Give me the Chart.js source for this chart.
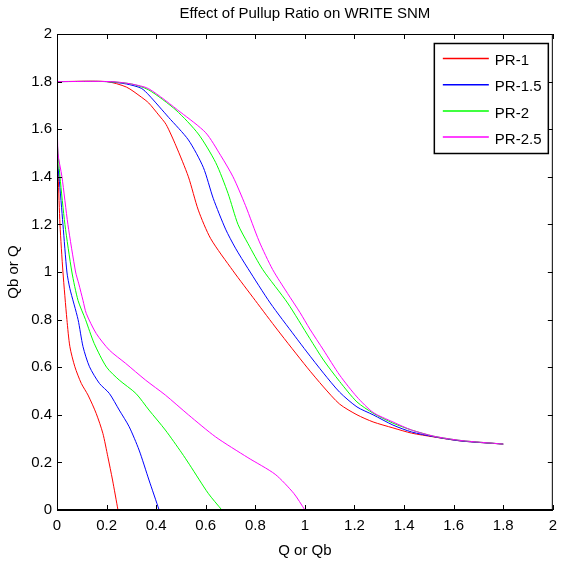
<!DOCTYPE html>
<html>
<head>
<meta charset="utf-8">
<title>Effect of Pullup Ratio on WRITE SNM</title>
<script src="https://cdn.jsdelivr.net/npm/chart.js@4/dist/chart.umd.min.js"></script>
<style>
  html, body { margin: 0; padding: 0; background: #fff; }
  canvas { display: block; }
</style>
</head>
<body>
<canvas id="snmChart" width="564" height="563"></canvas>
<script>
// tick values for both axes
const xTicks = [0, 0.2, 0.4, 0.6, 0.8, 1, 1.2, 1.4, 1.6, 1.8, 2];
const yTicks = [0, 0.2, 0.4, 0.6, 0.8, 1, 1.2, 1.4, 1.6, 1.8, 2];

const seriesNames = ['PR-1', 'PR-1.5', 'PR-2', 'PR-2.5'];
const seriesColors = ['#ff0000', '#0000ff', '#00ff00', '#ff00ff'];

// upper branch of each butterfly curve, [x, y]
const pr1Upper = [[0, 1.8], [0.2, 1.8], [0.28, 1.777], [0.34, 1.735], [0.37, 1.71], [0.41, 1.66], [0.44, 1.62],
  [0.48, 1.53], [0.53, 1.4], [0.57, 1.26], [0.62, 1.14], [0.71, 1.005], [0.8, 0.88], [0.89, 0.756],
  [1.008, 0.6], [1.075, 0.517], [1.14, 0.445], [1.21, 0.4], [1.275, 0.37], [1.355, 0.345], [1.43, 0.323],
  [1.52, 0.307], [1.63, 0.29], [1.8, 0.277]];
const pr15Upper = [[0, 1.8], [0.2, 1.8], [0.28, 1.79], [0.34, 1.772], [0.37, 1.744], [0.45, 1.65], [0.53, 1.555],
  [0.59, 1.44], [0.63, 1.31], [0.68, 1.18], [0.72, 1.1], [0.77, 1.015], [0.86, 0.87], [0.96, 0.73],
  [1.008, 0.664], [1.075, 0.575], [1.14, 0.495], [1.21, 0.433], [1.275, 0.4], [1.355, 0.357], [1.43, 0.328],
  [1.52, 0.308], [1.63, 0.29], [1.8, 0.277]];
const pr2Upper = [[0, 1.8], [0.2, 1.8], [0.3, 1.79], [0.37, 1.765], [0.48, 1.68], [0.57, 1.58], [0.64, 1.46],
  [0.69, 1.33], [0.73, 1.2], [0.77, 1.12], [0.83, 1.01], [0.93, 0.87], [1.02, 0.72], [1.075, 0.63],
  [1.14, 0.54], [1.21, 0.454], [1.275, 0.407], [1.355, 0.365], [1.43, 0.336], [1.52, 0.31], [1.63, 0.292],
  [1.8, 0.277]];
const pr25Upper = [[0, 1.8], [0.22, 1.8], [0.3, 1.79], [0.37, 1.77], [0.5, 1.67], [0.6, 1.585], [0.66, 1.49],
  [0.71, 1.4], [0.76, 1.28], [0.815, 1.13], [0.87, 1.01], [0.93, 0.91], [0.98, 0.83], [1.02, 0.76],
  [1.075, 0.672], [1.14, 0.567], [1.21, 0.475], [1.275, 0.41], [1.355, 0.37], [1.43, 0.336], [1.52, 0.31],
  [1.63, 0.292], [1.8, 0.277]];

// lower (mirrored) branch
const pr1Lower = [[0, 1.52], [0.005, 1.4], [0.012, 1.2], [0.024, 1.0], [0.04, 0.8], [0.052, 0.686],
  [0.072, 0.602], [0.098, 0.532], [0.125, 0.483], [0.158, 0.406], [0.185, 0.322], [0.205, 0.224],
  [0.224, 0.126], [0.246, 0]];
const pr15Lower = [[0, 1.47], [0.008, 1.4], [0.024, 1.2], [0.04, 1.0], [0.052, 0.93], [0.085, 0.8],
  [0.105, 0.686], [0.131, 0.602], [0.171, 0.532], [0.211, 0.49], [0.251, 0.42], [0.291, 0.35],
  [0.331, 0.252], [0.371, 0.126], [0.412, 0]];
const pr2Lower = [[0, 1.555], [0.012, 1.4], [0.032, 1.2], [0.06, 1.0], [0.085, 0.88], [0.115, 0.8],
  [0.15, 0.7], [0.2, 0.6], [0.251, 0.546], [0.318, 0.49], [0.371, 0.42], [0.437, 0.336], [0.503, 0.24],
  [0.535, 0.19], [0.61, 0.07], [0.665, 0]];
const pr25Lower = [[0, 1.8], [0.004, 1.5], [0.02, 1.4], [0.044, 1.2], [0.075, 1.0], [0.088, 0.95],
  [0.105, 0.88], [0.118, 0.826], [0.158, 0.742], [0.211, 0.672], [0.277, 0.616], [0.357, 0.546],
  [0.437, 0.483], [0.53, 0.4], [0.64, 0.307], [0.77, 0.22], [0.88, 0.15], [0.955, 0.07], [1.0, 0]];

const upperSets = [pr1Upper, pr15Upper, pr2Upper, pr25Upper];
const lowerSets = [pr1Lower, pr15Lower, pr2Lower, pr25Lower];

const fontFamily = '"Liberation Sans", Arial, sans-serif';
const baseFont = { family: fontFamily, size: 15 };

const datasets = [];
seriesNames.forEach((name, i) => {
  [upperSets[i], lowerSets[i]].forEach((pts, k) => {
    datasets.push({
      label: k === 0 ? name : '',
      data: pts.map(p => ({ x: p[0], y: p[1] })),
      borderColor: seriesColors[i],
      backgroundColor: seriesColors[i],
      borderWidth: 1,
      showLine: true,
      pointRadius: 0,
      tension: 0.25,
      order: 4 - i   // later series drawn on top
    });
  });
});

// box, inward ticks (matlab style) and legend inside the axes
const matlabFrame = {
  id: 'matlabFrame',
  afterDraw(chart) {
    const { ctx, chartArea: a, scales: { x, y } } = chart;
    ctx.save();
    ctx.strokeStyle = '#000';
    ctx.lineWidth = 1;
    ctx.beginPath();
    ctx.moveTo(a.left + 0.5, a.bottom);
    ctx.lineTo(a.left + 0.5, a.top + 0.5);
    ctx.lineTo(a.right - 0.5, a.top + 0.5);
    ctx.lineTo(a.right - 0.5, a.bottom);
    ctx.stroke();
    ctx.lineWidth = 2;
    ctx.beginPath();
    ctx.moveTo(a.left, a.bottom);
    ctx.lineTo(a.right, a.bottom);
    ctx.stroke();

    ctx.lineWidth = 1;
    ctx.beginPath();
    xTicks.forEach(v => {
      const px = Math.round(x.getPixelForValue(v)) + 0.5;
      ctx.moveTo(px, a.bottom); ctx.lineTo(px, a.bottom - 5);
      ctx.moveTo(px, a.top); ctx.lineTo(px, a.top + 5);
    });
    yTicks.forEach(v => {
      const py = Math.round(y.getPixelForValue(v)) + 0.5;
      ctx.moveTo(a.left, py); ctx.lineTo(a.left + 5, py);
      ctx.moveTo(a.right, py); ctx.lineTo(a.right - 5, py);
    });
    ctx.stroke();

    // legend
    const items = chart.data.datasets.filter(d => d.label);
    const boxW = 114, boxH = 110;
    const bx = a.right - 5 - boxW, by = a.top + 9;
    ctx.fillStyle = '#fff';
    ctx.fillRect(bx, by, boxW, boxH);
    ctx.strokeStyle = '#000';
    ctx.lineWidth = 1.5;
    ctx.strokeRect(bx + 0.5, by + 0.5, boxW, boxH);
    ctx.font = '15px ' + fontFamily;
    ctx.textBaseline = 'middle';
    ctx.textAlign = 'left';
    items.forEach((d, i) => {
      const ly = by + 15.5 + i * 26.2;
      ctx.strokeStyle = d.borderColor;
      ctx.lineWidth = 1.5;
      ctx.beginPath();
      ctx.moveTo(bx + 9, ly);
      ctx.lineTo(bx + 55, ly);
      ctx.stroke();
      ctx.fillStyle = '#000';
      ctx.fillText(d.label, bx + 61, ly + 2.5);
    });
    ctx.restore();
  }
};

const ctx = document.getElementById('snmChart').getContext('2d');
const chart = new Chart(ctx, {
  type: 'scatter',
  data: { datasets: datasets },
  options: {
    responsive: false,
    animation: false,
    layout: { padding: { left: 0, right: 6, top: 0, bottom: 0 } },
    plugins: {
      legend: { display: false },
      tooltip: { enabled: false },
      title: {
        display: true,
        text: 'Effect of Pullup Ratio on WRITE SNM',
        fullSize: false,
        color: '#000',
        font: { family: fontFamily, size: 15, weight: 'normal' },
        padding: { top: 5, bottom: 11 }
      }
    },
    scales: {
      x: {
        type: 'linear',
        min: 0,
        max: 2,
        grid: { display: false, drawTicks: false },
        border: { display: false },
        afterBuildTicks: s => { s.ticks = xTicks.map(v => ({ value: v })); },
        afterFit: s => { s.height = 53; },
        ticks: {
          color: '#000', font: baseFont, padding: 7, maxRotation: 0, autoSkip: false,
          callback: v => String(v)
        },
        title: {
          display: true, text: 'Q or Qb', color: '#000', font: baseFont,
          padding: { top: 0, bottom: 3 }
        }
      },
      y: {
        type: 'linear',
        min: 0,
        max: 2,
        grid: { display: false, drawTicks: false },
        border: { display: false },
        afterBuildTicks: s => { s.ticks = yTicks.map(v => ({ value: v })); },
        afterFit: s => { s.width = 57; },
        ticks: {
          color: '#000', font: baseFont, padding: 5, autoSkip: false,
          callback: v => String(v)
        },
        title: {
          display: true, text: 'Qb or Q', color: '#000', font: baseFont,
          padding: { top: 5, bottom: 0 }
        }
      }
    }
  },
  plugins: [matlabFrame]
});
</script>
</body>
</html>
